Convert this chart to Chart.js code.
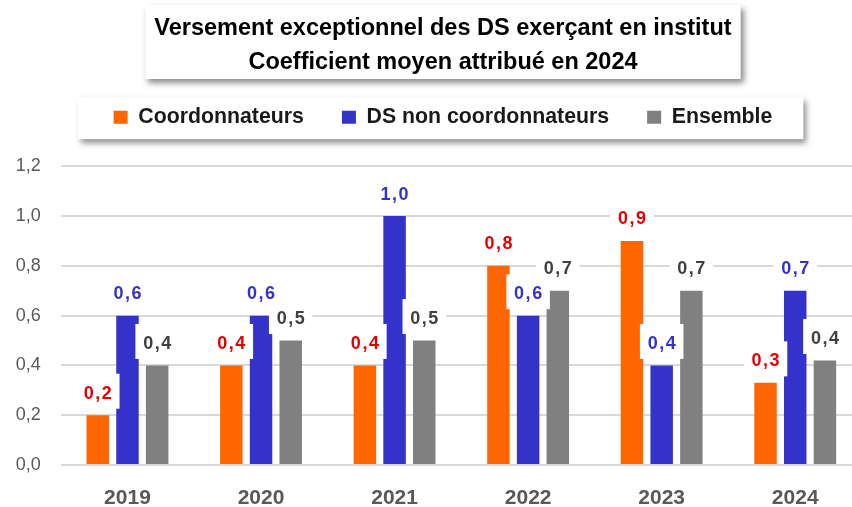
<!DOCTYPE html>
<html><head><meta charset="utf-8">
<script src="https://cdn.jsdelivr.net/npm/chart.js@4"></script>
<style>html,body{margin:0;padding:0;overflow:hidden;background:#fff}#wrap{width:870px;height:507px}</style>
</head><body><div id="wrap"><canvas id="c" width="870" height="507"></canvas></div>
<script>
const titleLines = ['Versement exceptionnel des DS exerçant en institut', 'Coefficient moyen attribué en 2024'];
const categories = ['2019', '2020', '2021', '2022', '2023', '2024'];
const seriesNames = ['Coordonnateurs', 'DS non coordonnateurs', 'Ensemble'];
const coordonnateurs = [0.2, 0.4, 0.4, 0.8, 0.9, 0.33];
const nonCoordonnateurs = [0.6, 0.6, 1.0, 0.6, 0.4, 0.7];
const ensemble = [0.4, 0.5, 0.5, 0.7, 0.7, 0.42];
const yTickLabels = ['0,0', '0,2', '0,4', '0,6', '0,8', '1,0', '1,2'];

const barColors = ['#ff6600', '#3333cc', '#808080'];
const labelColors = ['#e60000', '#3333cc', '#404040'];
const FONT = '"Liberation Sans", Arial, sans-serif';

function shadowRect(ctx, x, y, w, h) {
  ctx.save();
  ctx.shadowColor = 'rgba(0,0,0,0.45)';
  ctx.shadowBlur = 6;
  ctx.shadowOffsetX = 3;
  ctx.shadowOffsetY = 4;
  ctx.fillStyle = '#ffffff';
  ctx.fillRect(x, y, w, h);
  ctx.restore();
}

const framePlugin = {
  id: 'frames',
  afterInit(chart) {
    const lg = chart.legend;
    if (lg && !lg._wrapped) {
      const orig = lg.fit.bind(lg);
      lg.fit = function () { orig(); this.height += 28.5; };
      lg._wrapped = true;
    }
  },
  beforeDraw(chart) {
    const ctx = chart.ctx;
    const t = chart.titleBlock;
    ctx.save();
    ctx.font = 'bold 23.5px ' + FONT;
    const w = Math.max(...titleLines.map(l => ctx.measureText(l).width));
    const cx = (t.left + t.right) / 2;
    shadowRect(ctx, cx - w / 2 - 9, t.top + 5, w + 18, 74);
    const hb = chart.legend.legendHitBoxes;
    if (hb && hb.length) {
      const first = hb[0], last = hb[hb.length - 1];
      const cy = first.top + first.height / 2;
      const x0 = first.left - 36, x1 = last.left + last.width + 31;
      shadowRect(ctx, x0, cy - 20, x1 - x0, 42);
    }
    ctx.restore();
  }
};

const labelPlugin = {
  id: 'valueLabels',
  afterDatasetsDraw(chart) {
    const ctx = chart.ctx;
    ctx.save();
    ctx.font = 'bold 18px ' + FONT;
    ctx.letterSpacing = '1.5px';
    ctx.textAlign = 'center';
    ctx.textBaseline = 'middle';
    const items = [];
    chart.data.datasets.forEach((ds, di) => {
      const meta = chart.getDatasetMeta(di);
      meta.data.forEach((bar, i) => {
        const txt = ds.data[i].toFixed(1).replace('.', ',');
        const w = ctx.measureText(txt).width;
        items.push({ x: bar.x, y: bar.y - 22.5, txt, w, color: labelColors[di] });
      });
    });
    ctx.fillStyle = '#ffffff';
    items.forEach(it => ctx.fillRect(it.x - it.w / 2 - 7, it.y - 19, it.w + 14, 35));
    items.forEach(it => { ctx.fillStyle = it.color; ctx.fillText(it.txt, it.x + 0.75, it.y + 1); });
    ctx.restore();
  }
};

const seriesData = [coordonnateurs, nonCoordonnateurs, ensemble];

new Chart(document.getElementById('c'), {
  type: 'bar',
  data: {
    labels: categories,
    datasets: seriesNames.map((name, i) => ({
      label: name,
      data: seriesData[i],
      backgroundColor: barColors[i],
      borderWidth: 0,
      categoryPercentage: 0.667,
      barPercentage: 0.757
    }))
  },
  options: {
    responsive: false,
    animation: false,
    devicePixelRatio: 1,
    layout: { padding: { left: 24, right: 8, top: 0, bottom: 0 } },
    plugins: {
      title: {
        display: true,
        text: titleLines,
        color: '#000000',
        font: { family: FONT, size: 23.5, weight: 'bold', lineHeight: 1.4255 },
        padding: { top: 12, bottom: -10.5 }
      },
      legend: {
        display: true,
        position: 'top',
        labels: {
          color: '#1a1a1a',
          font: { family: FONT, size: 21.3, weight: 'bold' },
          boxWidth: 14,
          boxHeight: 13,
          padding: 38
        }
      },
      tooltip: { enabled: false }
    },
    scales: {
      x: {
        grid: { display: false },
        border: { display: false },
        ticks: { color: '#595959', font: { family: FONT, size: 21, weight: 'bold' }, padding: 13 },
        afterFit(scale) { scale.height = 42; scale._computeLabelArea = () => undefined; }
      },
      y: {
        min: 0,
        max: 1.2,
        grid: { color: '#d9d9d9', lineWidth: 2, drawTicks: false },
        border: { display: false },
        ticks: {
          stepSize: 0.2,
          color: '#595959',
          font: { family: FONT, size: 18 },
          padding: 20,
          callback: (v, i) => yTickLabels[i]
        },
        afterFit(scale) { scale.width = 36.7; scale._computeLabelArea = () => undefined; }
      }
    }
  },
  plugins: [framePlugin, labelPlugin]
});
</script>
</body></html>
